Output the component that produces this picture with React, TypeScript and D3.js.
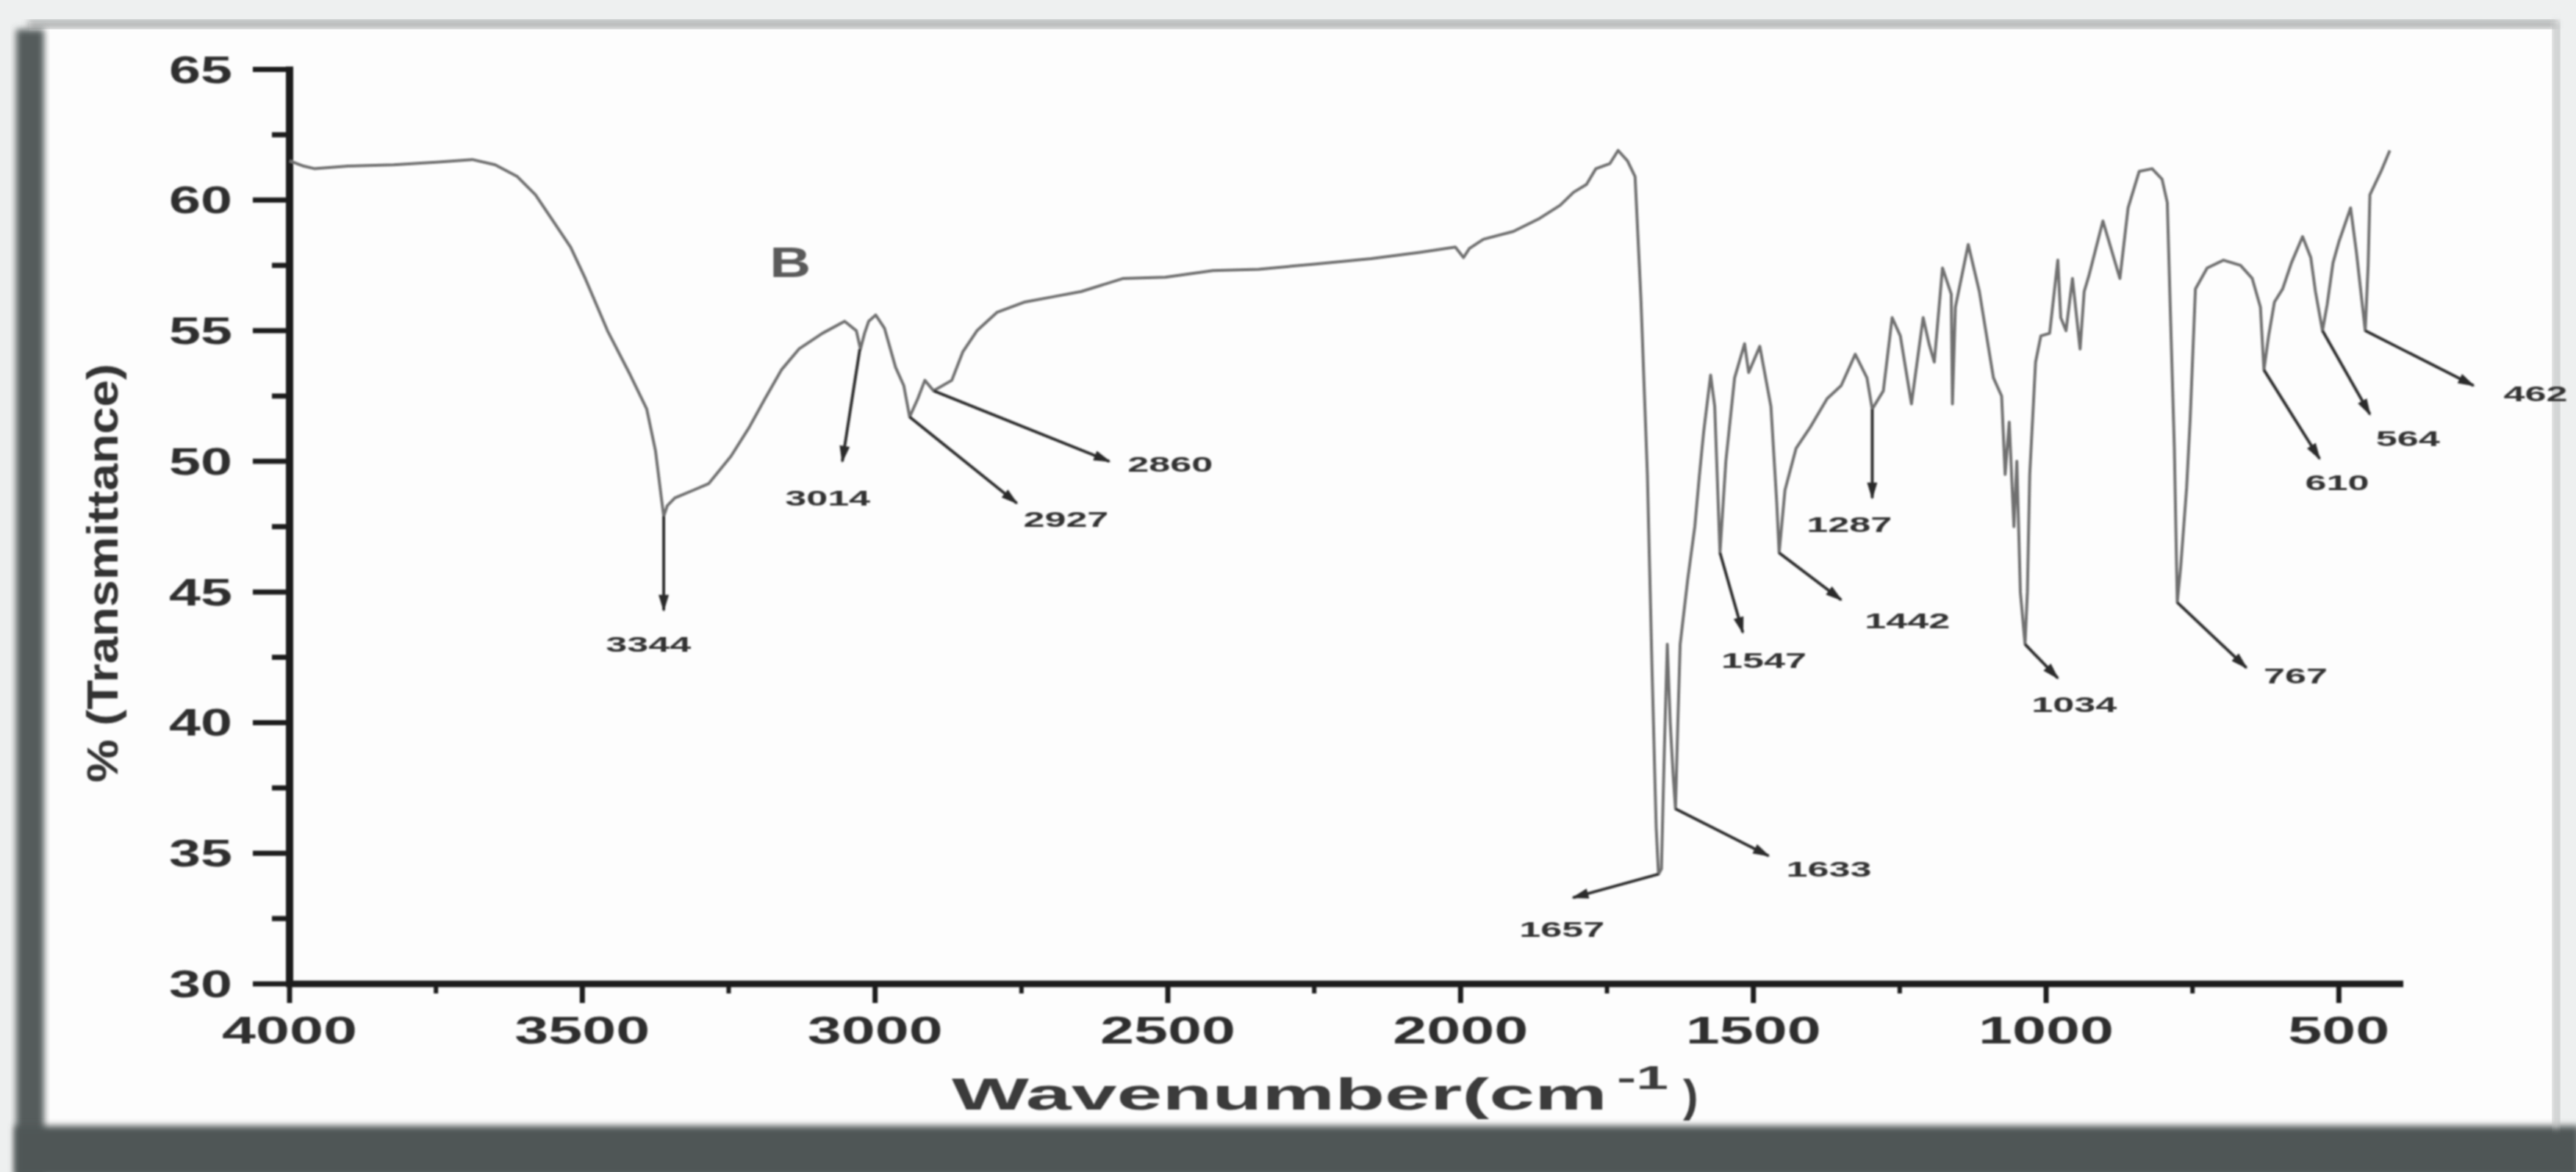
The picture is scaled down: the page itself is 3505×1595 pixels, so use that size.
import React from "react";
import * as d3 from "d3";

// ---- Data ----
const WAVENUMBER = [
  4000, 3976, 3957, 3900, 3822, 3750, 3688, 3649, 3611, 3580, 3553, 3520, 3495, 3457, 3418, 3390, 3375, 3365, 3361, 3355,
  3342, 3310, 3284, 3246, 3215, 3188, 3160, 3130, 3090, 3052, 3032, 3025, 3018, 3011, 2999, 2984, 2965, 2951, 2941, 2927,
  2915, 2900, 2869, 2850, 2826, 2792, 2744, 2696, 2648, 2576, 2504, 2423, 2345, 2250, 2153, 2070, 2009, 1995, 1985, 1961,
  1910, 1865, 1830, 1807, 1785, 1769, 1745, 1731, 1715, 1702, 1692, 1681, 1673, 1666, 1662, 1657, 1652, 1647, 1642, 1637,
  1633, 1629, 1625, 1612, 1600, 1592, 1585, 1573, 1566, 1557, 1547, 1532, 1515, 1508, 1489, 1470, 1460, 1456, 1446, 1427,
  1403, 1374, 1350, 1326, 1306, 1297, 1278, 1263, 1249, 1230, 1210, 1200, 1191, 1177, 1162, 1160, 1155, 1133, 1114, 1090,
  1076, 1070, 1063, 1055, 1050, 1044, 1036, 1032, 1028, 1018, 1009, 994, 980, 975, 966, 955, 942, 935, 927, 903,
  874, 860, 841, 819, 802, 793, 788, 781, 776, 770, 760, 754, 745, 725, 697, 668, 648, 634, 628, 620,
  610, 596, 581, 562, 548, 540, 528, 520, 510, 500, 480, 470, 455, 450, 447, 428, 413,
];
const TRANSMITTANCE = [
  61.5, 61.3, 61.2, 61.3, 61.35, 61.45, 61.55, 61.35, 60.9, 60.2, 59.3, 58.2, 57.0, 55.0, 53.3, 52.0, 50.4, 48.6, 47.9, 48.3,
  48.6, 48.9, 49.15, 50.2, 51.3, 52.4, 53.5, 54.3, 54.9, 55.36, 55.0, 54.3, 54.9, 55.36, 55.6, 55.1, 53.6, 52.9, 51.7, 52.4,
  53.1, 52.7, 53.1, 54.2, 55.0, 55.7, 56.1, 56.3, 56.5, 57.0, 57.05, 57.3, 57.35, 57.55, 57.76, 58.0, 58.2, 57.8, 58.15, 58.5,
  58.8, 59.3, 59.8, 60.3, 60.6, 61.2, 61.4, 61.9, 61.5, 60.9, 56.2, 49.5, 42.0, 36.0, 34.2, 34.4, 39.0, 43.0, 40.0, 38.0,
  36.7, 40.0, 43.0, 45.5, 47.5, 49.5, 51.1, 53.3, 52.1, 46.5, 50.0, 53.2, 54.5, 53.4, 54.4, 52.1, 48.4, 46.5, 48.9, 50.5,
  51.3, 52.4, 52.9, 54.1, 53.2, 52.0, 52.7, 55.5, 54.8, 52.2, 55.5, 54.5, 53.8, 57.4, 56.4, 52.2, 55.9, 58.3, 56.5, 53.2,
  52.5, 49.5, 51.5, 47.5, 50.0, 45.0, 43.0, 45.0, 49.5, 53.8, 54.8, 54.9, 57.7, 55.5, 55.0, 57.0, 54.3, 56.5, 57.1, 59.2,
  57.0, 59.7, 61.1, 61.2, 60.8, 59.9, 55.9, 50.5, 44.6, 46.0, 49.0, 51.6, 56.6, 57.4, 57.7, 57.5, 57.0, 55.9, 53.5, 54.8,
  56.1, 56.6, 57.6, 58.6, 57.8, 56.5, 55.0, 56.0, 57.6, 58.4, 59.7, 58.0, 55.0, 57.5, 60.2, 61.1, 61.9,
];

const Y_TICKS = [30, 35, 40, 45, 50, 55, 60, 65];
const Y_MINOR = [32.5, 37.5, 42.5, 47.5, 52.5, 57.5, 62.5];
const X_TICKS = [4000, 3500, 3000, 2500, 2000, 1500, 1000, 500];
const X_MINOR = [3750, 3250, 2750, 2250, 1750, 1250, 750];

// peak annotations: label, arrow start (wn, %T), arrow end (wn, %T), label centre (wn, %T baseline)
const PEAK_LABELS = ["3344", "3014", "2927", "2860", "1657", "1633", "1547", "1442", "1287", "1034", "767", "610", "564", "462"];
const ARROW_FROM = [
  [3361, 47.9], [3026, 54.3], [2941, 51.7], [2900, 52.7], [1662, 34.2], [1633, 36.7], [1557, 46.5],
  [1456, 46.5], [1297, 52.0], [1036, 43.0], [776, 44.6], [628, 53.5], [528, 55.0], [455, 55.0],
];
const ARROW_TO = [
  [3361, 44.3], [3056, 50.0], [2758, 48.4], [2600, 50.0], [1808, 33.3], [1474, 34.9], [1518, 43.45],
  [1350, 44.7], [1297, 48.6], [980, 41.7], [658, 42.1], [533, 50.1], [447, 51.8], [270, 52.9],
];
const LABEL_AT = [
  [3387, 42.7], [3081, 48.3], [2674, 47.5], [2496, 49.6], [1827, 31.8], [1371, 34.1], [1482, 42.1],
  [1237, 43.6], [1336, 47.3], [952, 40.4], [574, 41.5], [503, 48.9], [382, 50.6], [164, 52.3],
];

const SAMPLE_LABEL = "B";
const SAMPLE_AT = [3145, 57.05];

const FONT = "'Liberation Sans', Arial, sans-serif";

export default function App() {
  const W = 3505;
  const H = 1595;
  const x = d3.scaleLinear().domain([4000, 390]).range([394, 3270]);
  const y = d3.scaleLinear().domain([30, 65]).range([1339, 94.5]);

  const pts: [number, number][] = WAVENUMBER.map((w, i) => [w, TRANSMITTANCE[i]]);
  const line = d3
    .line<[number, number]>()
    .x((d) => x(d[0]))
    .y((d) => y(d[1]));

  const x0 = x.range()[0];
  const x1 = x.range()[1];
  const yBottom = y(30);
  const yTop = y(65);

  return (
    <svg
      width={W}
      height={H}
      viewBox={`0 0 ${W} ${H}`}
      style={{ position: "absolute", left: 0, top: 0, display: "block" }}
    >
      <defs>
        <filter id="soft" x="-5%" y="-5%" width="110%" height="110%">
          <feGaussianBlur stdDeviation="1.3" />
        </filter>
        <filter id="blurBig" x="-20%" y="-20%" width="140%" height="140%">
          <feGaussianBlur stdDeviation="5" />
        </filter>
        <marker
          id="arrow"
          viewBox="0 0 10 6"
          refX="9"
          refY="3"
          markerUnits="userSpaceOnUse"
          markerWidth="30"
          markerHeight="14"
          orient="auto"
        >
          <path d="M0,0 L10,3 L0,6 z" fill="#2a2a2a" />
        </marker>
      </defs>

      {/* photographed paper */}
      <rect x={0} y={0} width={W} height={H} fill="#eef0f0" />
      <rect x={40} y={30} width={3440} height={1510} fill="#fdfdfd" />
      <rect x={38} y={28} width={3440} height={10} fill="#8e9292" filter="url(#blurBig)" opacity={0.8} />
      <rect x={22} y={40} width={38} height={1560} fill="#555b5b" filter="url(#blurBig)" />
      <rect x={20} y={1532} width={3490} height={70} fill="#4f5656" filter="url(#blurBig)" />
      <rect x={3474} y={30} width={8} height={1505} fill="#b9bcbc" filter="url(#blurBig)" />

      <g filter="url(#soft)">
        {/* axes */}
        <line x1={x0} y1={yTop - 4} x2={x0} y2={yBottom} stroke="#1e1e1e" strokeWidth={10} />
        <line x1={x0 - 5} y1={yBottom} x2={x1} y2={yBottom} stroke="#1e1e1e" strokeWidth={9} />

        {Y_TICKS.map((t) => (
          <g key={"yt" + t}>
            <line x1={x0 - 50} y1={y(t)} x2={x0} y2={y(t)} stroke="#1e1e1e" strokeWidth={7} />
            <text
              x={316}
              y={y(t) + 18}
              textAnchor="end"
              fontFamily={FONT}
              fontWeight="bold"
              fontSize={52}
              textLength={86}
              lengthAdjust="spacingAndGlyphs"
              fill="#2e2e2e"
            >
              {t}
            </text>
          </g>
        ))}
        {Y_MINOR.map((t) => (
          <line key={"ym" + t} x1={x0 - 24} y1={y(t)} x2={x0} y2={y(t)} stroke="#1e1e1e" strokeWidth={7} />
        ))}

        {X_TICKS.map((t) => (
          <g key={"xt" + t}>
            <line x1={x(t)} y1={yBottom} x2={x(t)} y2={yBottom + 26} stroke="#1e1e1e" strokeWidth={7} />
            <text
              x={x(t)}
              y={1420}
              textAnchor="middle"
              fontFamily={FONT}
              fontWeight="bold"
              fontSize={52}
              textLength={String(t).length * 46}
              lengthAdjust="spacingAndGlyphs"
              fill="#2e2e2e"
            >
              {t}
            </text>
          </g>
        ))}
        {X_MINOR.map((t) => (
          <line key={"xm" + t} x1={x(t)} y1={yBottom} x2={x(t)} y2={yBottom + 13} stroke="#1e1e1e" strokeWidth={6} />
        ))}

        {/* axis titles */}
        <text
          transform="translate(160,780) rotate(-90)"
          textAnchor="middle"
          fontFamily={FONT}
          fontWeight="bold"
          fontSize={60}
          textLength={570}
          lengthAdjust="spacingAndGlyphs"
          fill="#333"
        >
          % (Transmittance)
        </text>
        <text
          x={1295}
          y={1510}
          fontFamily={FONT}
          fontWeight="bold"
          fontSize={62}
          textLength={892}
          lengthAdjust="spacingAndGlyphs"
          fill="#3a3a3a"
        >
          Wavenumber(cm
        </text>
        <text
          x={2200}
          y={1482}
          fontFamily={FONT}
          fontWeight="bold"
          fontSize={44}
          textLength={70}
          lengthAdjust="spacingAndGlyphs"
          fill="#3a3a3a"
        >
          -1
        </text>
        <text x={2290} y={1512} fontFamily={FONT} fontWeight="bold" fontSize={62} fill="#3a3a3a">
          )
        </text>

        {/* spectrum */}
        <path d={line(pts) || ""} fill="none" stroke="#707070" strokeWidth={4} strokeLinejoin="round" />

        {/* peak annotations */}
        {PEAK_LABELS.map((lab, i) => (
          <g key={"pk" + lab}>
            <line
              x1={x(ARROW_FROM[i][0])}
              y1={y(ARROW_FROM[i][1])}
              x2={x(ARROW_TO[i][0])}
              y2={y(ARROW_TO[i][1])}
              stroke="#2e2e2e"
              strokeWidth={4}
              markerEnd="url(#arrow)"
            />
            <text
              x={x(LABEL_AT[i][0])}
              y={y(LABEL_AT[i][1])}
              textAnchor="middle"
              fontFamily={FONT}
              fontWeight="bold"
              fontSize={30}
              textLength={lab.length * 29}
              lengthAdjust="spacingAndGlyphs"
              fill="#333"
            >
              {lab}
            </text>
          </g>
        ))}

        <text
          x={x(SAMPLE_AT[0])}
          y={y(SAMPLE_AT[1])}
          textAnchor="middle"
          fontFamily={FONT}
          fontWeight="bold"
          fontSize={58}
          textLength={56}
          lengthAdjust="spacingAndGlyphs"
          fill="#5a5a5a"
        >
          {SAMPLE_LABEL}
        </text>
      </g>
    </svg>
  );
}
